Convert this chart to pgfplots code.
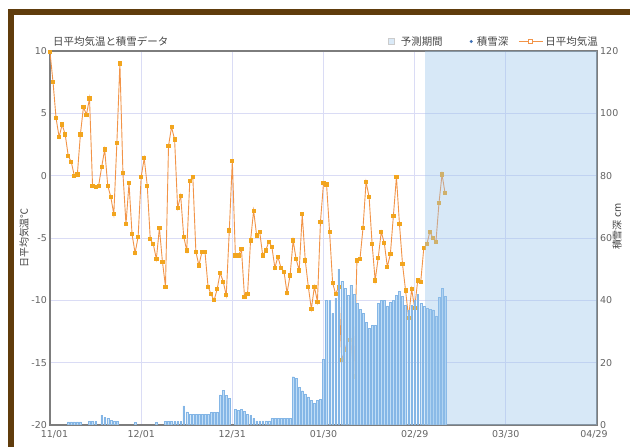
\documentclass[border=0pt]{standalone}
\usepackage{fontspec}
\setmainfont{Noto Sans CJK JP}
\newfontfamily\dv{DejaVu Sans}
\usepackage{pgfplots}
\usepackage{pgfplotstable}
\pgfplotsset{compat=1.18}

\definecolor{framec}{RGB}{96,60,12}
\definecolor{tline}{RGB}{242,148,72}
\definecolor{tmark}{RGB}{242,165,30}
\definecolor{snowfill}{RGB}{182,216,245}
\definecolor{snowdraw}{RGB}{132,182,230}
\definecolor{snowdot}{RGB}{60,110,180}
\definecolor{gridc}{RGB}{218,220,245}
\definecolor{fcastc}{RGB}{150,195,235}
\definecolor{axisc}{RGB}{125,125,125}
\definecolor{labc}{RGB}{100,100,100}
\definecolor{titlec}{RGB}{70,70,70}

% daily mean temperature, day index from 11/01
\pgfplotstableread{
d t
0 9.9
1 7.5
2 4.6
3 3.1
4 4.1
5 3.3
6 1.6
7 1.1
8 0.0
9 0.1
10 3.3
11 5.5
12 4.9
13 6.2
14 -0.8
15 -0.9
16 -0.8
17 0.7
18 2.1
19 -0.8
20 -1.7
21 -3.1
22 2.6
23 9.0
24 0.2
25 -3.9
26 -0.6
27 -4.7
28 -6.2
29 -4.9
30 -0.1
31 1.4
32 -0.8
33 -5.1
34 -5.5
35 -6.7
36 -4.2
37 -6.9
38 -8.9
39 2.4
40 3.9
41 2.9
42 -2.6
43 -1.6
44 -4.9
45 -6.0
46 -0.4
47 -0.1
48 -6.1
49 -7.2
50 -6.1
51 -6.1
52 -8.9
53 -9.5
54 -10.0
55 -9.1
56 -7.8
57 -8.5
58 -9.6
59 -4.4
60 1.2
61 -6.4
62 -6.4
63 -5.9
64 -9.7
65 -9.5
66 -5.2
67 -2.8
68 -4.8
69 -4.5
70 -6.4
71 -6.0
72 -5.3
73 -5.7
74 -7.4
75 -6.5
76 -7.4
77 -7.7
78 -9.4
79 -8.0
80 -5.2
81 -6.7
82 -7.6
83 -3.1
84 -6.8
85 -8.9
86 -10.7
87 -8.9
88 -10.1
89 -3.7
90 -0.6
91 -0.7
92 -4.5
93 -8.6
94 -9.5
95 -8.9
96 -14.8
97 -14.0
98 -13.2
99 -13.2
100 -16.1
101 -6.8
102 -6.7
103 -4.2
104 -0.5
105 -1.7
106 -5.5
107 -8.4
108 -6.6
109 -4.5
110 -5.4
111 -7.3
112 -6.3
113 -3.2
114 -0.1
115 -3.9
116 -7.1
117 -9.2
118 -11.4
119 -9.1
120 -10.6
121 -8.4
122 -8.5
123 -5.8
124 -5.5
125 -4.5
126 -5.0
127 -5.3
128 -2.2
129 0.1
130 -1.4
}\temps

% snow depth (cm)
\pgfplotstableread{
d s
6 1.0
7 1.0
8 1.0
9 1.0
10 1.0
13 1.2
14 1.2
15 1.2
17 3.2
18 2.4
19 2.2
20 1.4
21 1.2
22 1.2
28 0.8
35 0.8
38 1.1
39 1.1
40 1.1
41 1.1
42 1.1
43 1.1
44 6.1
45 4.2
46 3.4
47 3.4
48 3.4
49 3.4
50 3.4
51 3.4
52 3.4
53 4.0
54 4.0
55 4.0
56 9.7
57 11.2
58 9.5
59 8.5
61 5.1
62 4.8
63 5.0
64 4.3
65 3.4
66 3.1
67 2.1
68 1.3
69 1.3
70 1.3
71 1.3
72 1.3
73 2.1
74 2.1
75 2.1
76 2.1
77 2.1
78 2.1
79 2.1
80 15.5
81 15.0
82 12.0
83 11.0
84 10.0
85 9.0
86 8.0
87 7.0
88 8.0
89 8.2
90 21.0
91 40.0
92 40.0
93 35.8
94 40.6
95 50.0
96 46.2
97 43.9
98 41.7
99 44.9
100 41.9
101 39.0
102 37.1
103 35.8
104 32.9
105 31.0
106 32.0
107 32.0
108 39.0
109 39.9
110 39.9
111 38.2
112 39.3
113 40.1
114 41.7
115 42.8
116 41.2
117 38.5
118 36.9
119 38.5
120 39.9
121 42.0
122 39.0
123 38.0
124 37.4
125 37.1
126 36.9
127 34.8
128 41.0
129 43.9
130 41.2
}\snow

\begin{document}
\begin{tikzpicture}[x=1bp,y=1bp]
\useasboundingbox (0,0) rectangle (630,447);
\fill[white] (0,0) rectangle (630,447);
\fill[framec] (8,0) rectangle (14,438);
\fill[framec] (8,432) rectangle (630,438);

\begin{axis}[
  at={(50bp,22bp)}, anchor=south west,
  scale only axis, width=547bp, height=374bp,
  xmin=0, xmax=180, ymin=-20, ymax=10,
  xtick={0,30,...,180},
  xticklabels={\hspace*{9bp}11/01,12/01,12/31,01/30,02/29,03/30,04/29\hspace*{6bp}},
  ytick={-20,-15,...,10},
  grid=major, major grid style={gridc, line width=0.8bp},
  axis line style={axisc, line width=1.3bp},
  tick style={draw=none},
  /pgf/number format/assume math mode=true,
  tick label style={font=\dv\fontsize{9.5}{10}\selectfont, text=labc},
  xticklabel style={inner sep=0pt, yshift=-5bp},
  yticklabel style={inner sep=0pt, xshift=-3bp},
  title={日平均気温と積雪データ},
  title style={at={(axis description cs:0.0055,1)}, anchor=west, inner sep=0pt,
    yshift=3.5bp, font=\fontsize{10.5}{12}\selectfont, text=titlec},
  ylabel={日平均気温℃},
  ylabel style={at={(axis description cs:-0.0475,0.5)}, anchor=center,
    font=\fontsize{10}{12}\selectfont, text=titlec},
  legend columns=3,
  legend style={draw=none, fill=none, inner sep=0pt,
    at={(axis description cs:1.0018,1)}, anchor=east, yshift=9.5bp,
    font=\fontsize{10.5}{12}\selectfont, text=titlec,
    nodes={inner sep=0pt},
    /tikz/column 1/.style={column sep=6bp},
    /tikz/column 2/.style={column sep=27bp},
    /tikz/column 3/.style={column sep=4bp},
    /tikz/column 4/.style={column sep=10bp},
    /tikz/column 5/.style={column sep=2bp}},
  legend cell align=left,
]
\addlegendimage{legend image code/.code={
  \draw[draw=black!20, fill=fcastc!35, line width=0.6bp] (0bp,-3bp) rectangle (6bp,3bp);}}
\addlegendentry{予測期間}
\addlegendimage{legend image code/.code={
  \fill[snowdot, draw=none] (2bp,0bp) circle (1.6bp);}}
\addlegendentry{積雪深}
\addlegendimage{legend image code/.code={
  \draw[tline, line width=1.2bp] (0bp,0bp) -- (24bp,0bp);
  \draw[tline, fill=white, line width=0.8bp] (10bp,-2bp) rectangle (14bp,2bp);}}
\addlegendentry{日平均気温}

\addplot[tline, line width=0.9bp, mark=square*, mark size=1.6bp,
  mark options={fill=tmark, draw=tmark}, forget plot] table[x=d, y=t] {\temps};
\end{axis}

\begin{axis}[
  at={(50bp,22bp)}, anchor=south west,
  scale only axis, width=547bp, height=374bp,
  xmin=0, xmax=180, ymin=0, ymax=120,
  axis x line=none,
  axis y line*=right,
  axis line style={draw=none},
  ytick={0,20,...,120},
  tick style={draw=none},
  /pgf/number format/assume math mode=true,
  tick label style={font=\dv\fontsize{9.5}{10}\selectfont, text=labc},
  yticklabel style={inner sep=0pt, anchor=west, xshift=3bp},
  ylabel={積雪深 cm},
  ylabel style={at={(axis description cs:1.0366,0.53)}, anchor=center,
    font=\fontsize{10}{12}\selectfont, text=titlec},
  ybar, bar width=0.6,
]
\addplot[ybar, fill=snowfill, draw=snowdraw, line width=0.3bp, fill opacity=0.85]
  table[x=d, y=s] {\snow};
\fill[fcastc, fill opacity=0.38] (axis cs:123.5,0) rectangle (axis cs:180,120);
\end{axis}
\end{tikzpicture}
\end{document}
